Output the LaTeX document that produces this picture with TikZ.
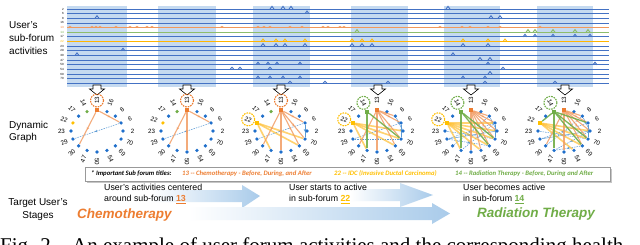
\documentclass[tikz,border=0pt]{standalone}
\usepackage{fontspec}
\setmainfont{Liberation Sans}
\newfontfamily\calfont{Carlito}
\newfontfamily\serffont{Liberation Serif}
\usetikzlibrary{arrows.meta,decorations.markings,calc}
\pgfdeclarelayer{bg}
\pgfdeclarelayer{edges}
\pgfsetlayers{bg,edges,main}
\definecolor{rowblue}{HTML}{4472C4}
\definecolor{bandblue}{HTML}{C5DAF0}
\definecolor{orng}{HTML}{ED7D31}
\definecolor{grn}{HTML}{70AD47}
\definecolor{gold}{HTML}{FFC000}
\definecolor{dotblue}{HTML}{1F6FCB}
\definecolor{arrblue}{HTML}{A9CBEA}
\definecolor{edgeblue}{HTML}{5B9BD5}

\tikzset{
  rowline/.style={draw=rowblue, line width=0.9pt},
  rlab/.style={font=\fontsize{3}{3}\selectfont, inner sep=0, anchor=east},
  darr/.style={draw=black, fill=white, line width=0.6pt},
  gdot/.style={circle, fill=dotblue, inner sep=0, minimum size=3.6pt},
  n13/.style={rectangle, fill=orng, minimum size=4.2pt},
  glab/.style={font=\fontsize{6.2}{6.5}\selectfont, inner sep=0},
  hcirc/.style={circle, draw=#1, dashed, dash pattern=on 1.6pt off 1pt, line width=1.1pt, minimum size=13pt, inner sep=0},
  midarrow/.style={postaction={decorate, decoration={markings, mark=at position 0.55 with {\arrow{Stealth[length=2.6pt,width=2.6pt]}}}}},
  oe/.style={draw=orng!75, line width=1.1pt, opacity=0.85, midarrow},
  ge/.style={draw=gold!75!orange!80!white, line width=1.6pt, opacity=0.7},
  gre/.style={draw=grn, line width=1.3pt, opacity=0.9},
  be/.style={draw=edgeblue, line width=0.5pt, midarrow},
  bd/.style={draw=edgeblue, line width=0.5pt, dash pattern=on 1.5pt off 1pt, midarrow},
  txt/.style={font=\fontsize{8.8}{10.5}\selectfont, align=left, anchor=west, inner sep=0},
  side/.style={font=\fontsize{10}{13}\selectfont, align=left, anchor=west, inner sep=0},
  capt/.style={font=\serffont\fontsize{21}{24}\selectfont, anchor=base west, inner sep=0},
}

% graph: #1 id, #2 centre x, #3 style of node 14, #4 style of node 22
\newcommand\gph[4]{%
  \begin{scope}[n14/.style={#3}, n22/.style={#4}]
  \foreach \lab [count=\i from 0] in {13,16,8,6,2,70,69,54,50,47,30,29,23,22,17,14}{
    \pgfmathsetmacro\ang{90-22.5*\i}
    \pgfmathsetmacro\rot{\ang < -90.1 ? \ang+180 : \ang}
    \node[gdot, n\lab/.try] (#1n\lab) at ({#2+26*cos(\ang)},{131-21*sin(\ang)}) {};
    \node[glab, rotate=\rot] (#1l\lab) at ({#2+35.5*cos(\ang)},{131-30.5*sin(\ang)}) {\lab};
  }
  \end{scope}}
% edges: #1 id, #2 style, #3 list a/b
\newcommand\edg[3]{%
  \begin{pgfonlayer}{edges}
  \foreach \a/\b in {#3}{\draw[#2] (#1n\a) -- (#1n\b);}
  \end{pgfonlayer}}
% bumps: #1 style, #2 row, #3 height, #4 x list
\newcommand\bumps[4]{%
  \foreach \xx in {#4}{\draw[#1] ({\xx-2},{9+(#2-1)*4.65}) -- (\xx,{9+(#2-1)*4.65-#3}) -- ({\xx+2},{9+(#2-1)*4.65});}}

\begin{document}
\begin{tikzpicture}[x=1pt,y=-1pt]
\clip (0,0) rectangle (640,244);

% ---------- activity panel ----------
\begin{pgfonlayer}{bg}
\fill[white] (0,0) rectangle (640,244);
\foreach \a/\b in {67/127,158/216,253/310,351/408,444/500,537/593}{
  \fill[bandblue] (\a,6) rectangle (\b,87);}
\end{pgfonlayer}
\foreach \r in {1,...,17}{\draw[rowline] (67,{9+(\r-1)*4.65}) -- (609,{9+(\r-1)*4.65});}
\draw[draw=orng!80, line width=0.7pt] (67,{9+4*4.65}) -- (609,{9+4*4.65});
\draw[draw=grn!80, line width=1.1pt] (67,{9+5*4.65}) -- (609,{9+5*4.65});
\draw[draw=gold!85!orange, line width=0.8pt] (67,{9+7*4.65}) -- (609,{9+7*4.65});
\foreach \r/\t in {1/2,2/6,3/8,4/16,9/23,10/29,11/30,12/47,13/50,14/54,15/69,16/70}{
  \node[rlab] (rl\r) at (64,{9+(\r-1)*4.65}) {\t};}
\node[rlab, text=orng] (rl5) at (64,{9+4*4.65}) {13};
\node[rlab, text=grn] (rl6) at (64,{9+5*4.65}) {14};
\node[rlab] (rl7) at (64,{9+6*4.65}) {17};
\node[rlab, text=gold] (rl8) at (64,{9+7*4.65}) {22};

\bumps{draw=orng!80, line width=0.7pt}{5}{1.2}{70,92,96,100,116,130,137,147,152,222,258,264,270,290,302,323,328,340,344,440,462,470,488,500,540}
\bumps{rowline}{1}{2.6}{272,283,291,448}
\bumps{rowline}{2}{2.6}{307}
\bumps{rowline}{3}{2.6}{97,491,500}
\bumps{draw=grn!80, line width=1pt}{6}{2.6}{357,528,535,553,575,588}
\bumps{rowline}{7}{2.6}{525,535,553,575,590}
\bumps{draw=gold!85!orange, line width=0.8pt}{8}{2.6}{263,276,285,305,352,362,372,463,488,505}
\bumps{rowline}{9}{2.6}{263,276,285,305,352,362,372,463,488}
\bumps{rowline}{10}{2.6}{123}
\bumps{rowline}{11}{2.6}{77,453}
\bumps{rowline}{12}{2.6}{480,490}
\bumps{rowline}{13}{2.6}{258,268,277,300,488,595}
\bumps{rowline}{14}{2.2}{232,240,270,503}
\bumps{rowline}{15}{2.6}{490}
\bumps{rowline}{16}{2.6}{258,270,283,300,463,485}
\bumps{rowline}{17}{2.2}{290,325,388,485,555}

\foreach \cx in {97,187,281,378,471,565}{
  \draw[darr] (\cx-4,85) -- (\cx+4,85) -- (\cx+4,89) -- (\cx+7.5,89) -- (\cx,95) -- (\cx-7.5,89) -- (\cx-4,89) -- cycle;}

% ---------- side labels ----------
\node[side] (sideA) at (9,38) {User's\\sub-forum\\activities};
\node[side, font=\fontsize{10}{12.5}\selectfont] (sideB) at (9,132) {Dynamic\\Graph};
\node[side, align=center, anchor=center] (sideC) at (38,210) {Target User's\\Stages};

% ---------- graphs ----------
\gph{a}{97}{circle,fill=grn}{circle,fill=gold}
\gph{b}{187}{circle,fill=grn}{circle,fill=gold}
\gph{c}{281}{circle,fill=grn}{rectangle,fill=gold,minimum size=4pt}
\gph{d}{377}{rectangle,fill=grn,minimum size=4pt}{rectangle,fill=gold,minimum size=4pt}
\gph{e}{471}{rectangle,fill=grn,minimum size=4pt}{rectangle,fill=gold,minimum size=4pt}
\gph{f}{564}{rectangle,fill=grn,minimum size=4pt}{rectangle,fill=gold,minimum size=4pt}

\node[hcirc=orng] (ac13) at (al13) {};
\node[hcirc=orng] (bc13) at (bl13) {};
\node[hcirc=orng] (cc13) at (cl13) {};
\node[hcirc=gold] (cc22) at (cl22) {};
\node[hcirc=grn] (dc14) at (dl14) {};
\node[hcirc=gold] (dc22) at (dl22) {};
\node[hcirc=grn] (ec14) at (el14) {};
\node[hcirc=gold] (ec22) at (el22) {};
\node[hcirc=grn] (fc14) at (fl14) {};

\edg{a}{bd}{6/29}
\edg{a}{oe}{13/6,13/30}
\edg{b}{bd}{6/29}
\edg{b}{oe}{13/6,13/50,13/30}
\edg{c}{bd}{6/29}
\edg{c}{be}{6/70}
\edg{c}{ge}{22/70,22/69,22/47}
\edg{c}{oe}{13/6,13/70,13/69,13/50,13/30}
\edg{d}{bd}{6/29,29/70}
\edg{d}{be}{6/70,8/2}
\edg{d}{ge}{22/2,22/70,22/69,22/47}
\edg{d}{oe}{13/8,13/6,13/70,13/69,13/50,13/30}
\edg{d}{gre}{14/47,14/70}
\edg{e}{bd}{6/29,8/30,70/23,6/47,29/69}
\edg{e}{be}{6/70,8/2,2/29}
\edg{e}{ge}{22/6,22/2,22/70,22/69,22/54,22/47}
\edg{e}{oe}{13/8,13/6,13/2,13/70,13/69,13/54,13/50}
\edg{e}{gre}{14/47,14/69,14/70}
\edg{f}{bd}{6/29,8/30,70/23,69/47,2/47}
\edg{f}{be}{6/70,8/2,2/29}
\edg{f}{ge}{22/2,22/70,22/69,22/54}
\edg{f}{oe}{13/8,13/6,13/2,13/70,13/69,13/50,13/30}
\edg{f}{gre}{14/47,14/69,14/70,14/22,14/6}

% ---------- legend ----------
\fill[gray!45] (87,169) rectangle (612,183);
\node[draw=gray!80, fill=white, line width=0.5pt, minimum width=525pt, minimum height=14pt, anchor=north west, inner sep=0] (leg) at (85,167) {};
\begin{scope}[every node/.style={font=\calfont\bfseries\itshape\fontsize{6.7}{7}\selectfont, anchor=west, inner sep=0}]
\node (legA) at (91,174) {* Important Sub forum titles:};
\node[text=orng] (legB) at (182,174) {13 -- Chemotherapy - Before, During, and After};
\node[text=gold] (legC) at (334,174) {22 -- IDC (Invasive Ductal Carcinoma)};
\node[text=grn] (legD) at (455,174) {14 -- Radiation Therapy - Before, During and After};
\end{scope}

% ---------- stage arrows ----------
\shade[left color=white, right color=arrblue] (150,190) -- (242,190) -- (242,185) -- (260,196) -- (242,208) -- (242,202) -- (150,202) -- cycle;
\shade[left color=white, right color=arrblue] (350,189) -- (400,189) -- (400,183) -- (433,195) -- (400,207) -- (400,201) -- (350,201) -- cycle;
\shade[left color=white, right color=arrblue] (188,207) -- (432,207) -- (432,203) -- (450,213.5) -- (432,224) -- (432,220) -- (188,220) -- cycle;

\node[txt] (t1) at (104,194) {User's activities centered\\around sub-forum \textcolor{orng}{\underline{\textbf{13}}}};
\node[txt] (t2) at (289,194) {User starts to active\\in sub-forum \textcolor{gold}{\underline{\textbf{22}}}};
\node[txt] (t3) at (463,194) {User becomes active\\in sub-forum \textcolor{grn}{\underline{\textbf{14}}}};
\node[font=\bfseries\itshape\fontsize{13.5}{16}\selectfont, text=orng, anchor=west, inner sep=0] (chemo) at (77,215) {Chemotherapy};
\node[font=\bfseries\itshape\fontsize{13.5}{16}\selectfont, text=grn, anchor=west, inner sep=0] (rad) at (477,214) {Radiation Therapy};

% ---------- caption (cut by the frame) ----------
\node[capt] (capA) at (0,252) {Fig. 2.};
\node[capt] (capB) at (72,252) {An example of user forum activities and the corresponding health};
\end{tikzpicture}
\end{document}
